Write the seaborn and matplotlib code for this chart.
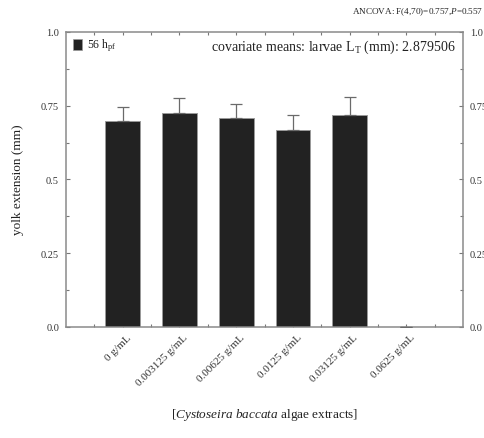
import numpy as np
import pandas as pd
import matplotlib
matplotlib.use("Agg")
import matplotlib.pyplot as plt
import matplotlib.ticker as mticker
from matplotlib.patches import Rectangle
import seaborn as sns

# Yolk extension per extract concentration (56 hpf)
concentrations = ["0 g/mL", "0.003125 g/mL", "0.00625 g/mL", "0.0125 g/mL",
                  "0.03125 g/mL", "0.0625 g/mL"]
yolk_means = [0.697, 0.724, 0.708, 0.668, 0.718, 0.0]
yolk_err = [0.050, 0.051, 0.046, 0.050, 0.062, 0.0]
y_ticks = [0.0, 0.25, 0.5, 0.75, 1.0]
y_tick_labels = ["0.0", "0.25", "0.5", "0.75", "1.0"]

sns.set_theme(style="white")
plt.rcParams["font.family"] = ["Liberation Serif", "DejaVu Serif"]
plt.rcParams["mathtext.fontset"] = "custom"
plt.rcParams["mathtext.rm"] = "Liberation Serif"
plt.rcParams["mathtext.it"] = "Liberation Serif:italic"

txt = "#222222"
spine_c = "#8a8a8a"

df = pd.DataFrame({"conc": concentrations, "mean": yolk_means})

fig = plt.figure(figsize=(4.85, 4.39), dpi=100)
ax = fig.add_axes([0.136, 0.253, 0.819, 0.672])

sns.barplot(data=df, x="conc", y="mean", order=concentrations, color="#222222",
            saturation=1, width=0.61, edgecolor="#9a9a9a", linewidth=0.7,
            errorbar=None, ax=ax)

xpos = np.arange(len(concentrations))
ax.errorbar(xpos, yolk_means, yerr=[np.zeros(len(yolk_err)), yolk_err],
            fmt="none", ecolor="#6a6a6a", elinewidth=0.9, capsize=4,
            capthick=0.9, zorder=3)

ax.set_xlim(-1, 6)
ax.set_ylim(0, 1.0)

# y axis: major + minor ticks, mirrored on the right
ax.yaxis.set_major_locator(mticker.FixedLocator(y_ticks))
ax.yaxis.set_major_formatter(mticker.FixedFormatter(y_tick_labels))
ax.yaxis.set_minor_locator(mticker.MultipleLocator(0.125))
ax.tick_params(axis="y", which="both", direction="in", left=True, right=True,
               labelright=True, labelsize=7.5, labelcolor="#333333",
               color="#777777", pad=5)
ax.tick_params(axis="y", which="major", length=3, width=0.8)
ax.tick_params(axis="y", which="minor", length=2, width=0.8)

# x axis: ticks every half category, top and bottom
ax.xaxis.set_minor_locator(mticker.FixedLocator(np.arange(-0.5, 6, 1.0)))
ax.tick_params(axis="x", which="both", direction="in", bottom=True, top=True,
               length=2.5, width=0.8, color="#777777")
ax.set_xticks(xpos)
ax.set_xticklabels(concentrations, rotation=45, ha="right", va="center",
                   rotation_mode="anchor", fontsize=8, color="#333333")
for lab in ax.get_xticklabels():
    lab.set_transform(lab.get_transform() +
                      matplotlib.transforms.ScaledTranslation(0.07, -0.04,
                                                              fig.dpi_scale_trans))

for s in ax.spines.values():
    s.set_color(spine_c)
    s.set_linewidth(1.1)

ax.set_xlabel("")
ax.set_ylabel("")
fig.text(0.037, 0.59, "yolk extension (mm)", rotation=90, ha="center",
         va="center", fontsize=9.5, color=txt)

fig.text(0.545, 0.055, r"[$\mathit{Cystoseira\ baccata}$ algae extracts]",
         ha="center", va="center", fontsize=9.5, color=txt)

fig.text(0.996, 0.972, r"ANCOVA: F(4,70)=0.757,$\mathit{P}$=0.557",
         ha="right", va="center", fontsize=6.6, color=txt)

# legend swatch and label
ax.add_patch(Rectangle((0.0165, 0.94), 0.025, 0.037, transform=ax.transAxes,
                       facecolor="#222222", edgecolor="#9a9a9a", lw=0.5,
                       clip_on=False))
ax.text(0.052, 0.958, r"56 h$_{\mathrm{pf}}$", transform=ax.transAxes,
        ha="left", va="center", fontsize=8.5, color=txt)

ax.text(0.98, 0.952, r"covariate means: larvae L$_{\mathrm{T}}$ (mm): 2.879506",
        transform=ax.transAxes, ha="right", va="center", fontsize=10,
        color=txt)

fig.savefig("out.png", dpi=100)
